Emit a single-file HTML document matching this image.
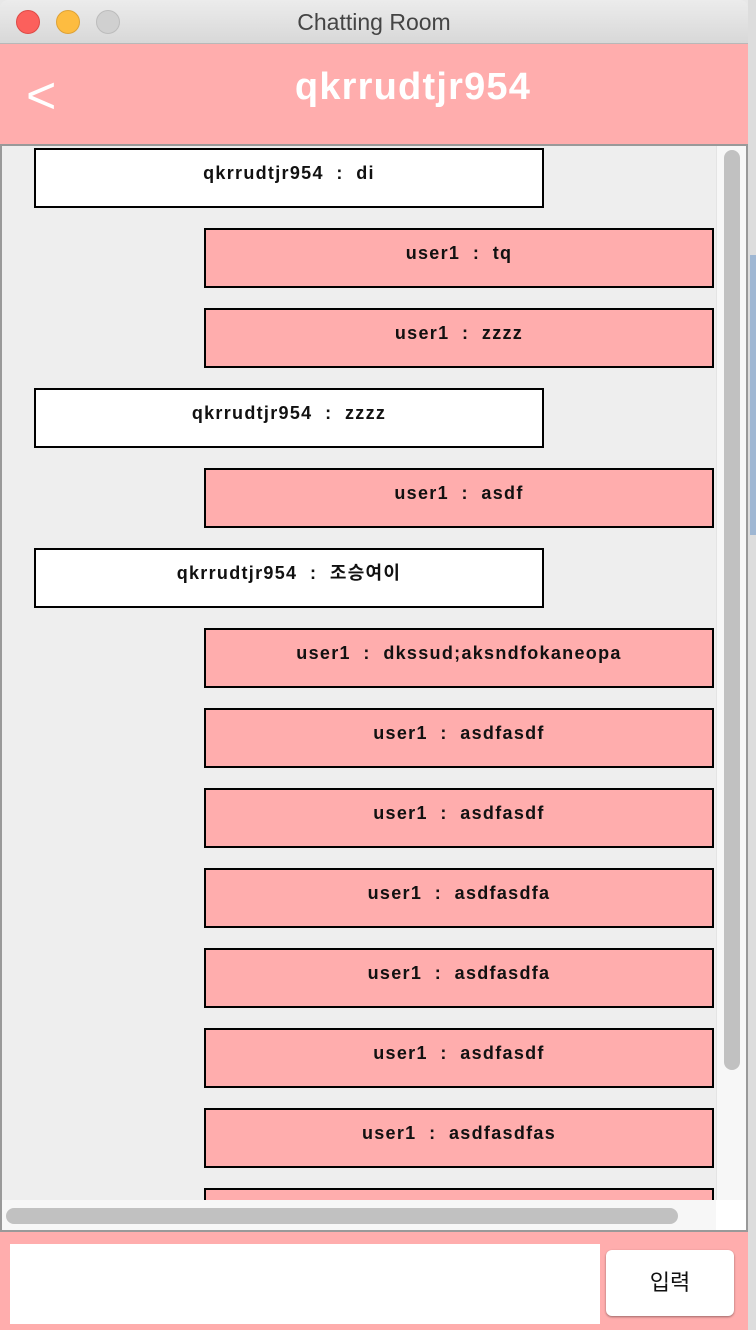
<!DOCTYPE html>
<html><head><meta charset="utf-8"><style>
*{margin:0;padding:0;box-sizing:border-box}
body{width:756px;height:1330px;position:relative;overflow:hidden;background:#e8e8e8;font-family:"Liberation Sans","Noto Sans CJK KR",sans-serif}
.abs{position:absolute}
.title{left:0;top:0;width:748px;height:44px;background:linear-gradient(#ececec,#d8d8d8);border-bottom:1px solid #b8b8b8;border-radius:8px 8px 0 0;text-align:center;font-size:23px;line-height:44px;color:#444}
.dot{top:10px;width:24px;height:24px;border-radius:50%}
.hdr{left:0;top:44px;width:748px;height:100px;background:#ffadad;color:#fff}
.pane{left:0;top:144px;width:748px;height:1088px;border:2px solid #999;background:#eeeeee;overflow:hidden}
.m{position:absolute;height:60px;border:2px solid #000;text-align:center;font-weight:bold;font-size:18px;letter-spacing:1.3px;word-spacing:0px;line-height:46px;color:#111;white-space:pre}
.w{left:32px;width:510px;background:#fff}
.p{left:202px;width:510px;background:#ffadad}
.bot{left:0;top:1232px;width:748px;height:98px;background:#ffadad}
</style></head><body>
<div class="abs" style="left:748px;top:0;width:8px;height:1330px;background:#ddd"></div>
<div class="abs" style="left:750px;top:255px;width:6px;height:280px;background:#9fb7d3"></div>
<div class="abs title">Chatting Room</div>
<div class="abs dot" style="left:16px;background:#fc605c;border:1px solid #de4a46"></div>
<div class="abs dot" style="left:56px;background:#fdbc40;border:1px solid #dea236"></div>
<div class="abs dot" style="left:96px;background:#d0d0d0;border:1px solid #bcbcbc"></div>
<div class="abs hdr">
<div class="abs" style="left:26px;top:22px;font-size:52px;line-height:60px">&lt;</div>
<div class="abs" style="left:0;width:826px;top:18px;text-align:center;font-size:38px;font-weight:bold;letter-spacing:1.2px;line-height:50px">qkrrudtjr954</div>
</div>
<div class="abs pane">
<div class="m w" style="top:2px">qkrrudtjr954  :  di</div>
<div class="m p" style="top:82px">user1  :  tq</div>
<div class="m p" style="top:162px">user1  :  zzzz</div>
<div class="m w" style="top:242px">qkrrudtjr954  :  zzzz</div>
<div class="m p" style="top:322px">user1  :  asdf</div>
<div class="m w" style="top:402px">qkrrudtjr954  :  조승여이</div>
<div class="m p" style="top:482px">user1  :  dkssud;aksndfokaneopa</div>
<div class="m p" style="top:562px">user1  :  asdfasdf</div>
<div class="m p" style="top:642px">user1  :  asdfasdf</div>
<div class="m p" style="top:722px">user1  :  asdfasdfa</div>
<div class="m p" style="top:802px">user1  :  asdfasdfa</div>
<div class="m p" style="top:882px">user1  :  asdfasdf</div>
<div class="m p" style="top:962px">user1  :  asdfasdfas</div>
<div class="m p" style="top:1042px"></div>
<div class="abs" style="left:714px;top:0;width:30px;height:1054px;background:#f7f7f7;border-left:1px solid #e4e4e4"></div>
<div class="abs" style="left:722px;top:4px;width:16px;height:920px;border-radius:8px;background:#c1c1c1"></div>
<div class="abs" style="left:0;top:1054px;width:714px;height:30px;background:#f7f7f7"></div>
<div class="abs" style="left:4px;top:1062px;width:672px;height:16px;border-radius:8px;background:#c1c1c1"></div>
<div class="abs" style="left:714px;top:1054px;width:30px;height:30px;background:#fff"></div>
</div>
<div class="abs bot">
<div class="abs" style="left:10px;top:12px;width:590px;height:80px;background:#fff"></div>
<div class="abs" style="left:606px;top:18px;width:128px;height:66px;background:#fff;border-radius:6px;box-shadow:0 1px 2px rgba(0,0,0,.4);text-align:center;line-height:66px;font-size:22px;color:#111">입력</div>
</div>
</body></html>
